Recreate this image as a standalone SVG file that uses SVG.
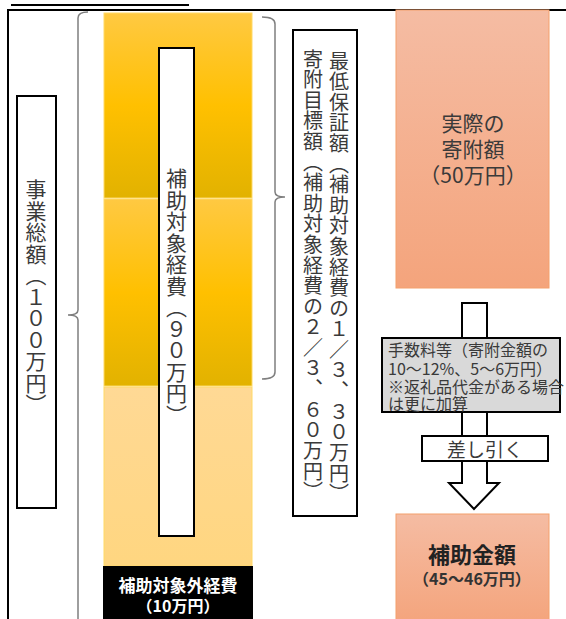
<svg xmlns="http://www.w3.org/2000/svg" width="566" height="619" viewBox="0 0 566 619">
<defs>
<linearGradient id="gold" x1="0" y1="0" x2="0" y2="1">
<stop offset="0" stop-color="#FFC942"/>
<stop offset="0.5" stop-color="#FFC000"/>
<stop offset="1" stop-color="#E2B200"/>
</linearGradient>
<linearGradient id="lightgold" x1="0" y1="0" x2="0" y2="1">
<stop offset="0" stop-color="#FFD995"/>
<stop offset="1" stop-color="#FFD680"/>
</linearGradient>
<linearGradient id="peach" x1="0" y1="0" x2="0" y2="1">
<stop offset="0" stop-color="#F5BCA3"/>
<stop offset="1" stop-color="#F4A47C"/>
</linearGradient>
</defs>
<style>
.t{font-family:"Noto Sans CJK JP","Noto Sans CJK SC",sans-serif;fill:#3a3a3a}
.v{writing-mode:vertical-rl;font-size:21px;letter-spacing:0.5px}
.box{fill:#fff;stroke:#000;stroke-width:2}
.br{fill:none;stroke:#7f7f7f;stroke-width:1.5}
.b{font-weight:bold}
.w{fill:#fff}
</style>
<rect width="566" height="619" fill="#fff"/>
<line x1="11" y1="5" x2="189" y2="5" stroke="#000" stroke-width="2"/>
<path d="M8,620 L8,10 L567,10" fill="none" stroke="#000" stroke-width="2"/>

<g id="connectors">
<path class="br" d="M88,12 Q78,12 78,18 L78,310 Q78,315 68,315 Q78,315 78,320 L78,620"/>
<path class="br" d="M262,17 Q275,17 275,24 L275,192 Q275,197 285,197 Q275,197 275,202 L275,372 Q275,379 262,379"/>
<polygon points="462,303 487,303 487,483 499,483 474,509 449,483 462,483" fill="#fff" stroke="#000" stroke-width="2"/>
</g>

<g id="gold-column">
<rect x="104" y="13" width="148" height="185" fill="url(#gold)" stroke="#FFD966" stroke-width="1"/>
<rect x="104" y="199" width="148" height="187" fill="url(#gold)" stroke="#FFD966" stroke-width="1"/>
<rect x="104" y="387" width="148" height="179" fill="url(#lightgold)" stroke="#FFD966" stroke-width="1"/>
</g>

<g id="total">
<rect class="box" x="17" y="96" width="39" height="412"/>
<text class="t v" x="36" y="179">事業総額（１００万円）</text>
</g>

<g id="eligible">
<rect class="box" x="159" y="48" width="35" height="488"/>
<text class="t v" x="176.5" y="168">補助対象経費（９０万円）</text>
</g>

<g id="target">
<rect class="box" x="293" y="30" width="64" height="486"/>
<text class="t v" x="339" y="51" style="font-size:20px;letter-spacing:0.6px">最低保証額（補助対象経費の１／３、３０万円）</text>
<text class="t v" x="313" y="49" style="font-size:20px;letter-spacing:0.6px">寄附目標額（補助対象経費の２／３、６０万円）</text>
</g>

<g id="actual">
<rect x="396" y="10" width="153" height="278" fill="url(#peach)" stroke="#F4A06C" stroke-width="1"/>
<text class="t" x="473" y="131" text-anchor="middle" font-size="21">実際の</text>
<text class="t" x="473" y="157" text-anchor="middle" font-size="21">寄附額</text>
<text class="t" x="473" y="183" text-anchor="middle" font-size="21">（50万円）</text>
</g>

<g id="fees">
<rect x="382" y="338" width="178" height="74" fill="#D9D9D9" stroke="#000" stroke-width="2"/>
<text class="t" font-size="16"><tspan x="388" y="356">手数料等（寄附金額の</tspan><tspan x="388" y="375">10～12%、5～6万円）</tspan><tspan x="388" y="393">※返礼品代金がある場合</tspan><tspan x="388" y="410">は更に加算</tspan></text>
</g>

<g id="subtract">
<rect class="box" x="422" y="436" width="126" height="25"/>
<text class="t" x="485" y="457" text-anchor="middle" font-size="19">差し引く</text>
</g>

<g id="subsidy">
<rect x="396" y="514" width="153" height="110" fill="url(#peach)" stroke="#F4A06C" stroke-width="1"/>
<text class="t b" x="472" y="563" text-anchor="middle" font-size="22" style="fill:#222">補助金額</text>
<text class="t b" x="472" y="585" text-anchor="middle" font-size="16" style="fill:#333">（45～46万円）</text>
</g>

<g id="non-eligible">
<rect x="103" y="566" width="150" height="56" fill="#000"/>
<text class="t b w" x="178" y="592" text-anchor="middle" font-size="17">補助対象外経費</text>
<text class="t b w" x="178" y="612" text-anchor="middle" font-size="16">（10万円）</text>
</g>
</svg>
